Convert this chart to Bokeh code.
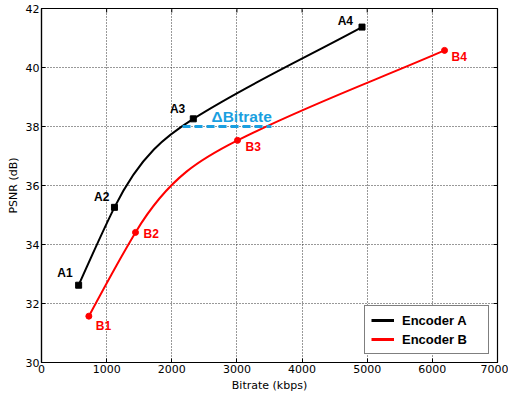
import numpy as np
from bokeh.plotting import figure
from bokeh.models import Range1d, Legend, LegendItem, FixedTicker, Label
from bokeh.embed import file_html
from bokeh.resources import INLINE

# ---- data ----
a_bitrate = [570, 1120, 2330, 4920]
a_psnr = [32.62, 35.26, 38.26, 41.37]
a_labels = ["A1", "A2", "A3", "A4"]
b_bitrate = [727, 1443, 3009, 6187]
b_psnr = [31.57, 34.41, 37.53, 40.58]
b_labels = ["B1", "B2", "B3", "B4"]
delta_psnr = 38.0
delta_from = 2165
delta_to = 3530
delta_text = "ΔBitrate"
x_ticks = [0, 1000, 2000, 3000, 4000, 5000, 6000, 7000]
y_ticks = [30, 32, 34, 36, 38, 40, 42]
x_lim = [0, 7000]
y_lim = [30, 42]
series_names = ["Encoder A", "Encoder B"]


def smooth_beziers(x, y, w=0.85):
    """Hermite Bezier segments: each inner point takes mostly the slope of its outer chord."""
    x = np.asarray(x, float)
    y = np.asarray(y, float)
    h = np.diff(x)
    d = np.diff(y) / h
    n = len(x)
    m = np.zeros(n)
    m[0] = d[0] + (1 - w) * (d[0] - d[1]) * 0.5
    m[-1] = d[-1]
    m[1] = w * d[0] + (1 - w) * d[1]
    m[n - 2] = w * d[-1] + (1 - w) * d[-2]
    return dict(
        x0=x[:-1], y0=y[:-1], x1=x[1:], y1=y[1:],
        cx0=x[:-1] + h / 3, cy0=y[:-1] + m[:-1] * h / 3,
        cx1=x[1:] - h / 3, cy1=y[1:] - m[1:] * h / 3,
    )


p = figure(
    output_backend="svg", toolbar_location=None,
    width=508, height=394,
    x_range=Range1d(*x_lim), y_range=Range1d(*y_lim),
    min_border_top=8, min_border_right=11, min_border_left=41, min_border_bottom=32,
)
p.background_fill_color = "white"
p.border_fill_color = "white"
p.outline_line_color = "black"
p.outline_line_width = 1.2

for ax in (p.xaxis[0], p.yaxis[0]):
    ax.major_label_text_font = "DejaVu Sans"
    ax.major_label_text_font_size = "11px"
    ax.major_label_text_color = "black"
    ax.axis_label_text_font = "DejaVu Sans"
    ax.axis_label_text_font_size = "11px"
    ax.axis_label_text_font_style = "normal"
    ax.axis_label_text_color = "black"
    ax.major_tick_in = 4
    ax.major_tick_out = 0
    ax.minor_tick_in = 0
    ax.minor_tick_out = 0
    ax.axis_line_color = "black"
    ax.axis_line_width = 1.2
    ax.major_tick_line_color = "black"
    ax.major_label_standoff = 2
    ax.axis_label_standoff = 3
p.xaxis[0].ticker = FixedTicker(ticks=x_ticks)
p.yaxis[0].ticker = FixedTicker(ticks=y_ticks)
p.xaxis[0].axis_label = "Bitrate (kbps)"
p.yaxis[0].axis_label = "PSNR (dB)"

p.xgrid.ticker = FixedTicker(ticks=x_ticks)
p.ygrid.ticker = FixedTicker(ticks=y_ticks)
for g in (p.xgrid[0], p.ygrid[0]):
    g.grid_line_color = "#333333"
    g.grid_line_dash = "1 2"
    g.grid_line_width = 1

# inward ticks on the top and right edges (half of each mark is clipped by the frame)
p.scatter(x=x_ticks, y=[y_lim[1]] * len(x_ticks), marker="dash", angle=np.pi / 2,
          size=8, line_color="black", line_width=1)
p.scatter(x=[x_lim[1]] * len(y_ticks), y=y_ticks, marker="dash",
          size=8, line_color="black", line_width=1)

# curves
p.bezier(source=smooth_beziers(a_bitrate, a_psnr), x0="x0", y0="y0", x1="x1", y1="y1",
         cx0="cx0", cy0="cy0", cx1="cx1", cy1="cy1", line_color="black", line_width=2)
p.bezier(source=smooth_beziers(b_bitrate, b_psnr), x0="x0", y0="y0", x1="x1", y1="y1",
         cx0="cx0", cy0="cy0", cx1="cx1", cy1="cy1", line_color="#ff0000", line_width=2)
p.scatter(a_bitrate, a_psnr, marker="square", size=6, color="black")
p.scatter(b_bitrate, b_psnr, marker="circle", size=6, color="#ff0000")

# delta line
p.line([delta_from, delta_to], [delta_psnr, delta_psnr], line_color="#1a9fe0",
       line_width=3, line_dash="8 4")
p.add_layout(Label(x=delta_from, y=delta_psnr, text=delta_text, x_offset=29, y_offset=10,
                   text_font="Liberation Sans", text_font_style="bold",
                   text_font_size="15.5px", text_color="#1a9fe0", text_baseline="middle"))

a_off = [(-6, 12), (-5, 10), (-8, 10), (-9, 6)]
for xv, yv, t, (dx, dy) in zip(a_bitrate, a_psnr, a_labels, a_off):
    p.add_layout(Label(x=xv, y=yv, text=t, x_offset=dx, y_offset=dy, text_align="right",
                       text_baseline="middle", text_font="Liberation Sans",
                       text_font_style="bold", text_font_size="12px", text_color="black"))
b_off = [(7, -10), (8, -2), (8, -7), (7, -7)]
for xv, yv, t, (dx, dy) in zip(b_bitrate, b_psnr, b_labels, b_off):
    p.add_layout(Label(x=xv, y=yv, text=t, x_offset=dx, y_offset=dy, text_align="left",
                       text_baseline="middle", text_font="Liberation Sans",
                       text_font_style="bold", text_font_size="12px", text_color="#ff0000"))

# legend proxies (kept outside the visible range)
la = p.line([-9000, -8000], [0, 0], line_color="black", line_width=3)
lb = p.line([-9000, -8000], [0, 0], line_color="#ff0000", line_width=3)
legend = Legend(items=[LegendItem(label=series_names[0], renderers=[la]),
                       LegendItem(label=series_names[1], renderers=[lb])],
                location="bottom_right")
legend.label_text_font = "Liberation Sans"
legend.label_text_font_style = "bold"
legend.label_text_font_size = "13px"
legend.label_text_color = "black"
legend.label_width = 80
legend.border_line_color = "black"
legend.border_line_width = 1.2
legend.glyph_width = 23
legend.glyph_height = 16
legend.label_height = 16
legend.label_standoff = 8
legend.padding = 6
legend.spacing = 3
legend.margin = 8
legend.background_fill_alpha = 1
p.add_layout(legend)

open("out.html", "w").write(file_html(p, INLINE))
